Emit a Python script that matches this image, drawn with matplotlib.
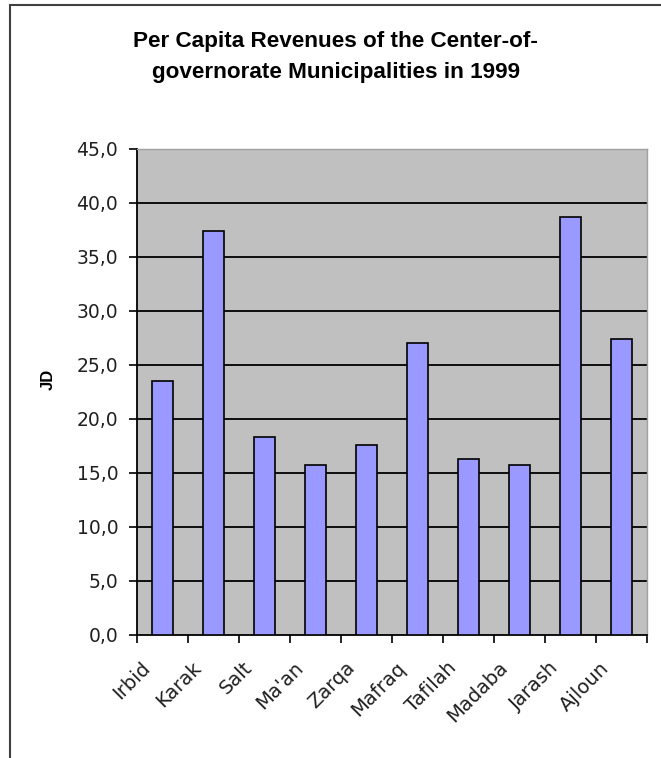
import matplotlib.pyplot as plt
import matplotlib.transforms as mtransforms
from matplotlib.patches import Rectangle
import numpy as np

plt.rcParams['font.family'] = ['Liberation Sans', 'DejaVu Sans']

municipalities = ["Irbid", "Karak", "Salt", "Ma'an", "Zarqa", "Mafraq",
                  "Tafilah", "Madaba", "Jarash", "Ajloun"]
revenue_jd = [23.5, 37.4, 18.3, 15.7, 17.6, 27.0, 16.3, 15.7, 38.7, 27.4]
y_ticks = [0, 5, 10, 15, 20, 25, 30, 35, 40, 45]
y_tick_labels = ["0,0", "5,0", "10,0", "15,0", "20,0", "25,0",
                 "30,0", "35,0", "40,0", "45,0"]
title_lines = ["Per Capita Revenues of the Center-of-",
               "governorate Municipalities in 1999"]

W, H = 661, 758
fig = plt.figure(figsize=(W / 100, H / 100), dpi=100)
fig.patch.set_facecolor('white')

# outer chart frame (right/bottom edges run off the picture)
fig.patches.append(Rectangle((10 / W, -0.05), 1.2, 1 - 5 / H + 0.05,
                             transform=fig.transFigure, fill=False,
                             edgecolor='#404040', linewidth=1.5))

ax = fig.add_axes([137 / W, 1 - 635 / H, 510 / W, 486 / H])
ax.set_facecolor('#C0C0C0')

x = np.arange(len(municipalities))
ax.bar(x, revenue_jd, width=0.4, color='#9999FF', edgecolor='black',
       linewidth=1.2, zorder=3)

ax.set_ylim(0, 45)
ax.set_xlim(-0.5, len(municipalities) - 0.5)
ax.set_yticks(y_ticks)
ax.set_yticklabels(y_tick_labels, fontsize=13.5, family='DejaVu Sans',
                   color='#202020')
for v in y_ticks[1:-1]:
    ax.axhline(v, color='black', linewidth=1.3, zorder=2)

# category ticks sit on the boundaries; names drawn as rotated texts
ax.set_xticks(np.arange(-0.5, len(municipalities)))
ax.set_xticklabels([])
ax.tick_params(axis='x', length=6, width=1.2, direction='out')
ax.tick_params(axis='y', length=6, width=1.2, direction='out', pad=7.5)

shift = mtransforms.ScaledTranslation(-15 / 100, -30 / 100, fig.dpi_scale_trans)
for i, name in zip(x, municipalities):
    ax.text(i, 0, name, transform=ax.get_xaxis_transform() + shift,
            rotation=45, ha='right', va='center', rotation_mode='anchor',
            fontsize=14, family='DejaVu Sans', color='#202020', clip_on=False)

for side in ['top', 'right']:
    ax.spines[side].set_color('#A0A0A0')
    ax.spines[side].set_linewidth(1)
for side in ['left', 'bottom']:
    ax.spines[side].set_linewidth(1.3)

ax.set_ylabel("JD", fontsize=12, fontweight='bold')
ax.yaxis.set_label_coords((56 - 137) / 510, 0.525)

fig.text(335 / W, 1 - 47 / H, title_lines[0], ha='center', va='baseline',
         fontsize=16.2, fontweight='bold')
fig.text(336 / W, 1 - 78 / H, title_lines[1], ha='center', va='baseline',
         fontsize=16.2, fontweight='bold')

fig.savefig("out.png", dpi=100)
